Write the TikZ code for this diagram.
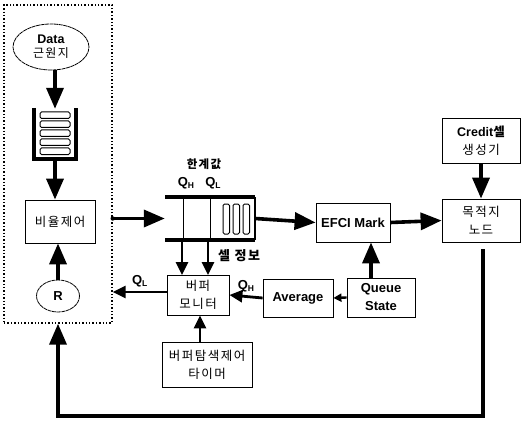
\documentclass[tikz,border=0pt]{standalone}
\usepackage{fontspec}
\setmainfont{Liberation Sans}
\newfontfamily\kr[LetterSpace=12]{Noto Sans CJK KR}
\usetikzlibrary{arrows.meta,shapes.geometric,calc}
\tikzset{
  box/.style={draw, line width=0.8pt, inner sep=0pt, align=center, font=\fontsize{12.5}{18}\selectfont\kr},
  oval/.style={draw, ellipse, line width=0.8pt, dash pattern=on 4pt off 0.6pt, inner sep=0pt, align=center},
  big/.style={line width=3.6pt, -{Triangle[length=21pt,width=17pt]}},
  med/.style={line width=2.8pt, -{Triangle[length=13pt,width=12pt]}},
  sml/.style={line width=2.4pt, -{Triangle[length=8pt,width=8pt]}},
  qlab/.style={font=\fontsize{13}{14}\selectfont\bfseries, inner sep=0pt},
  qwall/.style={line width=4.5pt},
  slot/.style={draw, line width=1pt, rounded corners=1.5pt}
}
\newcommand{\QQ}[1]{Q\raisebox{-0.35ex}{\fontsize{8.5}{9}\selectfont #1}}
\begin{document}
\begin{tikzpicture}[x=1pt,y=-1pt]
\useasboundingbox (0,0) rectangle (521,422);
% control region (dotted)
\node[draw, line width=1.4pt, dotted, minimum width=108pt, minimum height=318pt, inner sep=0pt] (ctrl) at (58,164) {};
% source
\node[oval, minimum width=76pt, minimum height=46pt] (src) at (51,47)
  {{\fontsize{12.5}{14}\selectfont\bfseries Data}\\[2pt]{\fontsize{12}{13}\selectfont\kr 근원지}};
% vertical queue
\node[minimum width=42pt, minimum height=50pt, inner sep=0pt] (vq) at (55,134) {};
\draw[qwall] (34,108) -- (34,159) -- (76,159) -- (76,108);
\foreach \yy in {112,121,130,139,148}
  \draw[slot] (40,\yy) rectangle (70,\yy+6.5);
% rate control
\node[box, minimum width=70pt, minimum height=43pt] (rate) at (60,221.5) {비율제어};
% R
\node[oval, minimum width=43pt, minimum height=32pt, font=\fontsize{13}{14}\selectfont\bfseries] (R) at (58,296) {R};
% horizontal queue
\node[minimum width=90pt, minimum height=43pt, inner sep=0pt] (hq) at (210,218.5) {};
\draw[qwall] (165,197) -- (255,197);
\draw[qwall] (165,240) -- (255,240);
\draw[line width=1.3pt] (255,197) -- (255,240);
\draw[line width=0.9pt] (183,197) -- (183,240);
\draw[line width=0.9pt] (210,197) -- (210,240);
\foreach \xx in {223,233,243}
  \draw[slot] (\xx,204) rectangle (\xx+6.5,234);
\node[font=\fontsize{11.5}{12}\selectfont\kr\bfseries] (thr) at (204,164) {한계값};
\node[qlab] (qh) at (186,183) {\QQ{H}};
\node[qlab] (ql) at (213,183) {\QQ{L}};
% boxes
\node[box, minimum width=74pt, minimum height=39pt, font=\fontsize{13}{15}\selectfont\bfseries] (efci) at (353,222.5) {EFCI Mark};
\node[box, minimum width=78pt, minimum height=43pt] (dest) at (481,220.5) {목적지\\노드};
\node[box, minimum width=78pt, minimum height=45pt] (credit) at (481,140.5)
  {{\rmfamily\fontsize{12.5}{14}\selectfont\bfseries Credit}{\kr\bfseries 셀}\\생성기};
\node[box, minimum width=68pt, minimum height=39pt, font=\rmfamily\fontsize{13}{18}\selectfont\bfseries] (qs) at (381,297.5) {Queue\\State};
\node[box, minimum width=70pt, minimum height=38pt, font=\rmfamily\fontsize{13}{15}\selectfont\bfseries] (avg) at (298,298) {Average};
\node[box, minimum width=62pt, minimum height=40pt] (bm) at (198,295) {버퍼\\모니터};
\node[box, minimum width=90pt, minimum height=45pt] (timer) at (207,364.5) {버퍼탐색제어\\타이머};
% arrows in control region
\draw[big] (src.south -| vq.north) -- (vq.north);
\draw[big] (55,161) -- (rate.north -| 55,0);
\draw[big] (R.north) -- (rate.south -| R.north);
% rate -> queue
\fill (ctrl.east |- hq.west) circle (2.2pt);
\draw[big] (ctrl.east |- hq.west) -- (hq.west);
\draw[big] (hq.east) -- (efci.west);
\draw[big] (efci.east) -- (dest.west);
\draw[big] (credit.south) -- (dest.north);
\draw[big] (qs.north -| 371,0) -- (efci.south -| 371,0);
\draw[sml] (qs.west) -- (avg.east);
% Q_H, Q_L feedback
\draw[med] (avg.west) -- (bm.east) node[midway, above=3pt, qlab] {\QQ{H}};
\draw[med] (bm.west |- 0,292) -- (ctrl.east |- 0,292) node[midway, above=4pt, qlab] {\QQ{L}};
% queue -> buffer monitor
\draw[med] (182,242) -- (182,275);
\draw[med] (208,242) -- (208,275);
\node[anchor=west, font=\fontsize{13}{14}\selectfont\kr\bfseries, inner sep=0pt] (cell) at (218,256) {셀 정보};
\draw[med] (timer.north -| 200,0) -- (bm.south -| 200,0);
% credit feedback loop
\coordinate (fb1) at (483,416);
\coordinate (fb2) at (58,416);
\draw[big] ($(dest.south)+(2,7)$) -- (fb1) -- (fb2) -- (ctrl.south -| fb2);
\end{tikzpicture}
\end{document}
